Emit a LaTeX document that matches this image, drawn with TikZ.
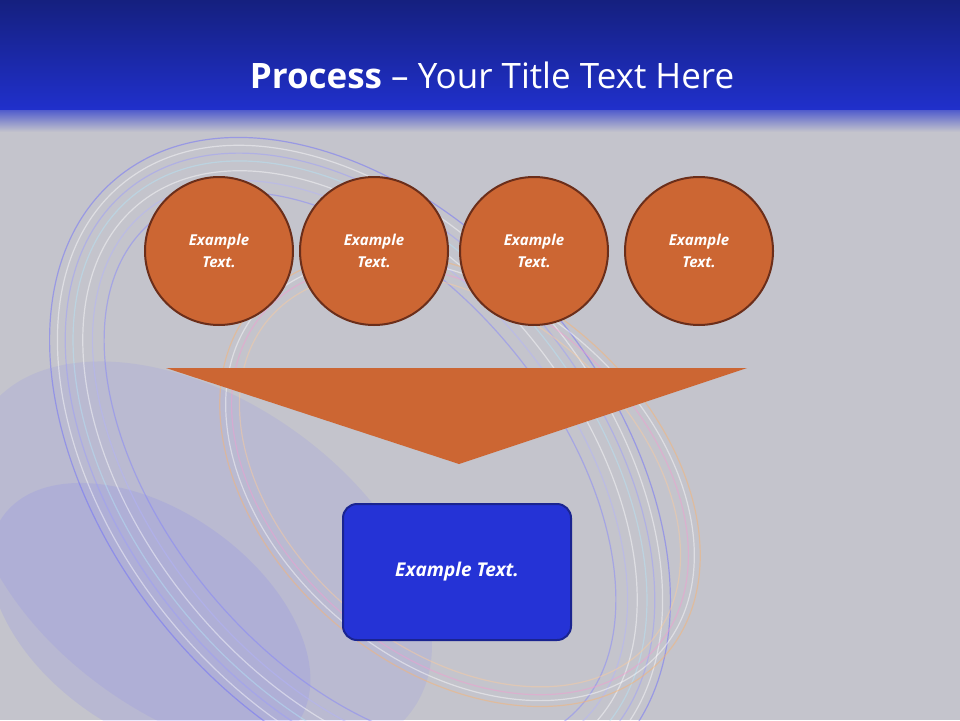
\documentclass[tikz,border=0pt]{standalone}
\usepackage{fontspec}
\setmainfont{Open Sans}
\begin{document}
\begin{tikzpicture}[x=1pt,y=-1pt,
  circ/.style={circle,draw=circbd,line width=2pt,fill=orng,minimum size=148pt,text=white,font=\bfseries\itshape\fontsize{15}{22}\selectfont,align=center},
  bx/.style={rounded corners=14pt,draw=boxbd,line width=2pt,fill=boxf,minimum width=228pt,minimum height=136pt,text=white,font=\bfseries\itshape\fontsize{19}{24}\selectfont},
  ring/.style={line width=1.2pt,opacity=0.45}]
\definecolor{bg}{HTML}{C4C4CC}
\definecolor{orng}{HTML}{CC6633}
\definecolor{circbd}{HTML}{6B2E1A}
\definecolor{boxf}{HTML}{2533D6}
\definecolor{boxbd}{HTML}{1A2490}
\definecolor{top1}{HTML}{15207F}
\definecolor{top2}{HTML}{2030CC}
\useasboundingbox (0,0) rectangle (960,720);
\fill[bg] (0,0) rectangle (960,720);
\begin{scope}
\clip (0,110) rectangle (960,720);
\fill[blue!60!white,opacity=0.1,rotate around={-35:(200,560)}] (200,560) ellipse (260 and 160);
\fill[blue!60!white,opacity=0.12,rotate around={-35:(150,620)}] (150,620) ellipse (180 and 110);
\foreach \r/\c in {0/blue!60!white,8/white,16/blue!40!white,24/cyan!30!white,34/white,44/blue!30!white,56/blue!50!white}{
  \draw[ring,draw=\c,rotate around={-50:(360,470)}] (360,470) ellipse ({380-\r} and {250-\r});
}
\foreach \r/\c in {0/orange!60!white,6/white,12/magenta!40!white,20/orange!40!white}{
  \draw[ring,draw=\c,rotate around={-40:(460,480)}] (460,480) ellipse ({270-\r} and {190-\r});
}
\end{scope}
\shade[top color=top1,bottom color=top2] (0,0) rectangle (960,110);
\shade[top color=top2!70!bg,bottom color=bg] (0,110) rectangle (960,132);
\node[text=white,font=\fontsize{35}{40}\selectfont] (title) at (492,75) {\textbf{Process} -- Your Title Text Here};
\node[circ] (c1) at (219,251) {Example\\Text.};
\node[circ] (c2) at (374,251) {Example\\Text.};
\node[circ] (c3) at (534,251) {Example\\Text.};
\node[circ] (c4) at (699,251) {Example\\Text.};
\coordinate (t1) at (166,368);
\coordinate (t2) at (747,368);
\coordinate (t3) at (459,464);
\fill[orng] (t1) -- (t2) -- (t3) -- cycle;
\node[bx] (b) at (457,572) {Example Text.};
\end{tikzpicture}
\end{document}
